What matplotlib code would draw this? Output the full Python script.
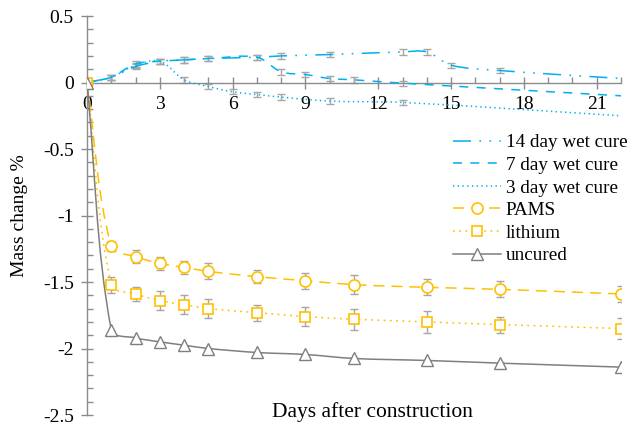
import numpy as np
import matplotlib
matplotlib.use("Agg")
import matplotlib.pyplot as plt
from matplotlib.path import Path
from matplotlib.patches import PathPatch
from matplotlib.lines import Line2D
from matplotlib.ticker import MultipleLocator, FuncFormatter

plt.rcParams['font.family'] = ['Liberation Serif', 'DejaVu Serif']
plt.rcParams['lines.scale_dashes'] = False

# ---------------- data ----------------
days = [0, 1, 2, 3, 4, 5, 7, 9, 11, 14, 17, 22]
pams = [0, -1.23, -1.31, -1.36, -1.39, -1.42, -1.46, -1.49, -1.52, -1.54, -1.555, -1.59]
pams_err = [0, 0.04, 0.05, 0.05, 0.05, 0.06, 0.05, 0.06, 0.07, 0.06, 0.06, 0.06]
lithium = [0, -1.52, -1.59, -1.64, -1.67, -1.70, -1.73, -1.76, -1.78, -1.80, -1.82, -1.85]
lithium_err = [0, 0.06, 0.05, 0.07, 0.07, 0.07, 0.06, 0.07, 0.08, 0.08, 0.06, 0.08]
uncured = [0, -1.86, -1.92, -1.95, -1.975, -2.0, -2.03, -2.045, -2.075, -2.09, -2.11, -2.14]

days_wet14 = [0, 1, 2, 3, 4, 5, 7, 8, 10, 13, 14, 15, 17, 22]
wet14 = [0, 0.04, 0.12, 0.16, 0.17, 0.18, 0.19, 0.20, 0.21, 0.23, 0.23, 0.13, 0.09, 0.03]
days_wet7 = [0, 1, 2, 3, 4, 5, 7, 8, 9, 10, 11, 13, 22]
wet7 = [0, 0.04, 0.14, 0.16, 0.17, 0.18, 0.19, 0.08, 0.06, 0.03, 0.02, -0.005, -0.10]
days_wet3 = [0, 1, 2, 3, 4, 5, 6, 7, 8, 10, 13, 22]
wet3 = [0, 0.04, 0.13, 0.16, 0.02, -0.03, -0.07, -0.09, -0.11, -0.14, -0.15, -0.25]
wet_err = 0.02

labels = ['14 day wet cure', '7 day wet cure', '3 day wet cure', 'PAMS', 'lithium', 'uncured']

# ---------------- style ----------------
BLUE = '#00B0F0'
YEL = '#FFC000'
GRAY = '#7F7F7F'
ERR = '#A6A6A6'
AX = '#8C8C8C'
LW = 1.1

fig = plt.figure(figsize=(6.3, 4.26), dpi=100)
ax = fig.add_axes([87/630, 1-415/426, (621-87)/630, (415-16)/426])
ax.set_xlim(0, 22)
ax.set_ylim(-2.5, 0.5)


def smooth_path(x, y, k=1.0):
    pts = ax.transData.transform(np.column_stack([x, y]).astype(float))
    n = len(pts)

    def unit(v):
        nv = np.hypot(*v)
        return v / nv if nv > 0 else v * 0

    tang = []
    for i in range(n):
        a = pts[max(i-1, 0)]
        b = pts[min(i+1, n-1)]
        tang.append(unit(b - a))
    verts = [pts[0]]
    codes = [Path.MOVETO]
    for i in range(n-1):
        L = np.hypot(*(pts[i+1] - pts[i]))
        c1 = pts[i] + tang[i] * L / 3 * k
        c2 = pts[i+1] - tang[i+1] * L / 3 * k
        verts += [c1, c2, pts[i+1]]
        codes += [Path.CURVE4] * 3
    vd = ax.transData.inverted().transform(np.array(verts))
    return Path(vd, codes)


styles = {
    'w14': dict(color=BLUE, ls=(0, (13, 6, 1.2, 6, 1.2, 6))),
    'w7': dict(color=BLUE, ls=(0, (6.5, 6))),
    'w3': dict(color=BLUE, ls=(0, (1.0, 2.4))),
    'pams': dict(color=YEL, ls=(0, (8, 5))),
    'lith': dict(color=YEL, ls=(0, (1.3, 3.2))),
    'unc': dict(color=GRAY, ls='-'),
}

# error bars (grey)
for xs, ys in [(days_wet14, wet14), (days_wet7, wet7), (days_wet3, wet3)]:
    ax.errorbar(xs[1:-1], ys[1:-1], yerr=wet_err, fmt='none', ecolor=ERR,
                elinewidth=1.0, capsize=2.8, capthick=1.0, zorder=2)
ax.errorbar(days[1:], pams[1:], yerr=pams_err[1:], fmt='none', ecolor=ERR,
            elinewidth=1.0, capsize=2.8, capthick=1.0, zorder=2)
ax.errorbar(days[1:], lithium[1:], yerr=lithium_err[1:], fmt='none', ecolor=ERR,
            elinewidth=1.0, capsize=2.8, capthick=1.0, zorder=2)

# smoothed lines
series = [
    (days_wet14, wet14, 'w14'),
    (days_wet7, wet7, 'w7'),
    (days_wet3, wet3, 'w3'),
    (days, pams, 'pams'),
    (days, lithium, 'lith'),
    (days, uncured, 'unc'),
]
for xs, ys, key in series:
    st = styles[key]
    pp = PathPatch(smooth_path(xs, ys), fill=False, edgecolor=st['color'],
                   lw=LW, linestyle=st['ls'], zorder=3)
    ax.add_patch(pp)

# markers
ax.plot(days, pams, ls='none', marker='o', ms=8, mfc='white', mec=YEL, mew=1.2, zorder=4)
ax.plot(days, lithium, ls='none', marker='s', ms=7.5, mfc='white', mec=YEL, mew=1.2, zorder=4)
ax.plot(days, uncured, ls='none', marker='^', ms=8, mfc='white', mec=GRAY, mew=1.0, zorder=5)

# axes styling
for s in ['top', 'right']:
    ax.spines[s].set_visible(False)
ax.spines['bottom'].set_position(('data', 0))
for s in ['bottom', 'left']:
    ax.spines[s].set_color(AX)
    ax.spines[s].set_linewidth(1.0)

ax.xaxis.set_major_locator(MultipleLocator(3))
ax.xaxis.set_minor_locator(MultipleLocator(1))
ax.yaxis.set_major_locator(MultipleLocator(0.5))
ax.yaxis.set_minor_locator(MultipleLocator(0.1))
ax.yaxis.set_major_formatter(FuncFormatter(lambda v, p: '{:g}'.format(round(v, 2)).replace('\u2212', '-')))
ax.xaxis.set_major_formatter(FuncFormatter(lambda v, p: '{:g}'.format(v)))
ax.tick_params(which='major', direction='inout', length=9, width=1.0, color=AX,
               labelsize=14, labelcolor='black')
ax.tick_params(axis='x', which='major', pad=5)
ax.tick_params(axis='y', which='major', pad=5)
ax.tick_params(which='minor', direction='in', length=4, width=1.0, color=AX)

ax.set_ylabel('Mass change %', fontsize=14)
ax.yaxis.set_label_coords(-(87-28)/534, 0.5)
fig.text(372/630, 1-412/426, 'Days after construction', fontsize=15.5, ha='center', va='center')

# legend
handles = [
    Line2D([], [], color=BLUE, lw=LW, ls=styles['w14']['ls']),
    Line2D([], [], color=BLUE, lw=LW, ls=styles['w7']['ls']),
    Line2D([], [], color=BLUE, lw=LW, ls=styles['w3']['ls']),
    Line2D([], [], color=YEL, lw=LW, ls=styles['pams']['ls'], marker='o', ms=8, mfc='white', mec=YEL, mew=1.2),
    Line2D([], [], color=YEL, lw=LW, ls=styles['lith']['ls'], marker='s', ms=7.5, mfc='white', mec=YEL, mew=1.2),
    Line2D([], [], color=GRAY, lw=LW, ls='-', marker='^', ms=8, mfc='white', mec=GRAY, mew=1.0),
]
fig.legend(handles, labels, loc='upper left', bbox_to_anchor=(453/630, 1-134/426),
           frameon=False, fontsize=13.8, handlelength=2.5, handletextpad=0.25,
           labelspacing=0.27, borderpad=0, borderaxespad=0)

fig.savefig('out.png', dpi=100)
